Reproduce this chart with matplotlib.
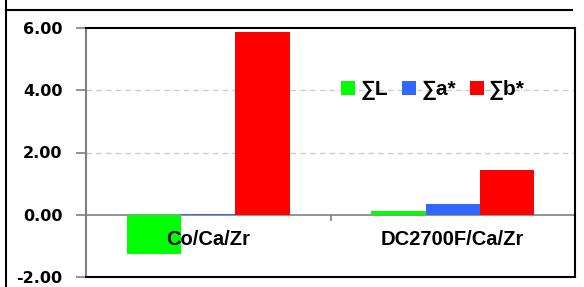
import matplotlib.pyplot as plt
from matplotlib.lines import Line2D
import numpy as np

# data
categories = ['Co/Ca/Zr', 'DC2700F/Ca/Zr']
sum_L = [-1.26, 0.13]
sum_a = [0.04, 0.35]
sum_b = [5.86, 1.44]
series_labels = ['∑L', '∑a*', '∑b*']
series_colors = ['#00ff00', '#3366ff', '#ff0000']
y_ticks = [-2, 0, 2, 4, 6]

fig = plt.figure(figsize=(5.84, 2.87), dpi=100)
fig.patch.set_facecolor('white')
ax = fig.add_axes([86 / 584, 1 - 277 / 287, (575 - 86) / 584, (277 - 28) / 287])

x = np.arange(len(categories))
width = 2 / 9
for i, (vals, lab, col) in enumerate(zip([sum_L, sum_a, sum_b], series_labels, series_colors)):
    ax.bar(x + (i - 1) * width, vals, width, color=col, label=lab, zorder=2)

ax.set_xlim(-0.5, 1.5)
ax.set_ylim(-2, 6)
ax.set_yticks(y_ticks)
ax.set_yticklabels([f'{v:.2f}' for v in y_ticks], fontsize=11.5, fontweight='bold',
                   family='DejaVu Sans')
ax.tick_params(axis='y', length=7, width=1.2, color='#808080', pad=10)
ax.set_xticks([])

# dashed grid and zero line
for v in [2, 4]:
    ax.axhline(v, color='#cccccc', lw=1, ls=(0, (4, 3)), zorder=0)

sec = ax.secondary_xaxis(0.25)
sec.set_xticks([0.5])
sec.set_xticklabels([''])
sec.tick_params(direction='out', length=4, width=1.2, color='#808080')
for s in sec.spines.values():
    s.set_color('#808080')
    s.set_linewidth(1.2)

for sp in ['top', 'right', 'bottom']:
    ax.spines[sp].set_color('black')
    ax.spines[sp].set_linewidth(1.5)
ax.spines['left'].set_color('#808080')
ax.spines['left'].set_linewidth(1.5)

# category labels inside the plot below zero
for xi, cat in zip(x, categories):
    ax.text(xi, -0.8, cat, ha='center', va='center', fontsize=14.5, fontweight='bold',
            family=['Liberation Sans', 'DejaVu Sans'], zorder=5)

leg = ax.legend(loc='center', bbox_to_anchor=(0.71, 0.75), ncol=3, frameon=False,
                handlelength=0.65, handleheight=0.6, handletextpad=0.25, columnspacing=0.7,
                borderpad=0, prop={'size': 15, 'weight': 'bold',
                                   'family': ['Liberation Sans', 'DejaVu Sans']})

# outer frame lines
fig.add_artist(Line2D([6 / 584, 6 / 584], [0, 1], color='black', lw=1.5))
fig.add_artist(Line2D([6 / 584, 572 / 584], [1 - 10 / 287, 1 - 10 / 287], color='black', lw=1.5))

fig.savefig('out.png', dpi=100)
